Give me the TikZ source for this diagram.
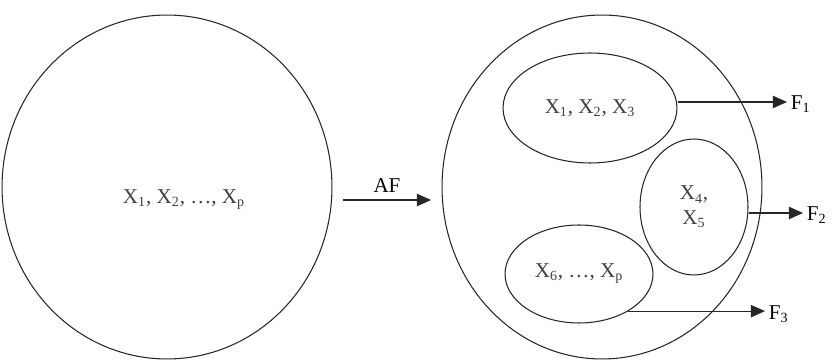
\documentclass[tikz,border=0pt]{standalone}
\usepackage{fontspec}
\setmainfont{Liberation Serif}
\usetikzlibrary{shapes}
\usetikzlibrary{arrows.meta}
\usetikzlibrary{positioning}
\usetikzlibrary{calc}

\begin{document}
\begin{tikzpicture}[x=0.02cm, y=-0.02cm, font=\large]
	\tikzstyle{oval} = [ellipse, draw=black!85, line width=0.6pt, inner sep=0pt, align=center]
	\tikzstyle{group} = [oval, text=black!75]
	\tikzstyle{outarrow} = [->, >={Triangle[length=8pt,width=7pt]}, draw=black!85, line width=0.6pt]
	\useasboundingbox (0,0) rectangle (836,361);
	\node (vars)[oval, minimum width=6.6cm, minimum height=6.88cm] at (167,187) {};
	\node (varstext)[text=black!75] at (184,200) {X\textsubscript{1}, X\textsubscript{2}, \dots, X\textsubscript{p}};
	\node (factors)[oval, minimum width=6.4cm, minimum height=6.88cm] at (602,187) {};
	\node (g1)[group, minimum width=3.48cm, minimum height=2.2cm] at (590,108) {X\textsubscript{1}, X\textsubscript{2}, X\textsubscript{3}};
	\node (g2)[group, minimum width=2.16cm, minimum height=2.72cm] at (694,207) {X\textsubscript{4},\\X\textsubscript{5}};
	\node (g3)[group, minimum width=2.96cm, minimum height=1.96cm] at (579,274) {X\textsubscript{6}, \dots, X\textsubscript{p}};
	\node (f1)[anchor=west, inner sep=2pt] at (787,104) {F\textsubscript{1}};
	\node (f2)[anchor=west, inner sep=2pt] at (803,215) {F\textsubscript{2}};
	\node (f3)[anchor=west, inner sep=2pt] at (765,314) {F\textsubscript{3}};
	\coordinate (afstart) at (343,200);
	\coordinate (afend) at (431,200);
	\node (af)[above=1pt of $(afstart)!0.5!(afend)$] {AF};
	\draw[outarrow] (afstart) -- (afend);
	\draw[outarrow] (g1.east |- 0,102) -- (f1.west |- 0,102);
	\draw[outarrow] (g2.east |- 0,213) -- (f2.west |- 0,213);
	\draw[outarrow] (g3.-37) -- (f3.west |- g3.-37);
\end{tikzpicture}
\end{document}
